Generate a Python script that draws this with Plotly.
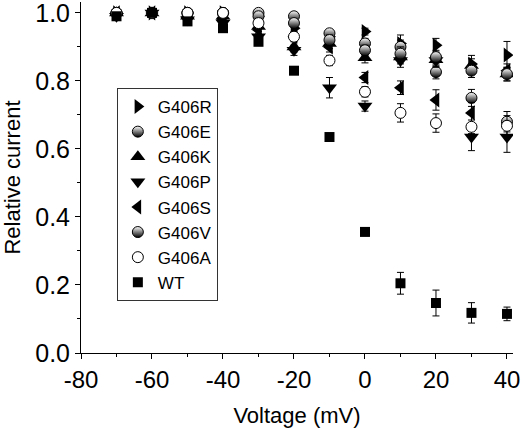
import plotly.graph_objects as go

voltage = [-70, -60, -50, -40, -30, -20, -10, 0, 10, 20, 30, 40]

g406r = [1.00, 1.00, 1.00, 1.00, 0.99, 0.955, 0.93, 0.945, 0.91, 0.905, 0.85, 0.876]
g406r_err = [0.01, 0.005, 0.01, 0.01, 0.01, 0.01, 0.015, 0.01, 0.025, 0.02, 0.025, 0.04]
g406e = [1.00, 1.00, 1.00, 1.00, 1.00, 0.99, 0.94, 0.91, 0.90, 0.826, 0.75, 0.68]
g406e_err = [0.01, 0.005, 0.01, 0.01, 0.01, 0.01, 0.01, 0.015, 0.02, 0.02, 0.025, 0.03]
g406k = [1.00, 1.00, 0.99, 0.99, 0.96, 0.90, 0.91, 0.868, 0.87, 0.862, 0.845, 0.82]
g406k_err = [0.01, 0.005, 0.01, 0.01, 0.01, 0.015, 0.015, 0.015, 0.02, 0.02, 0.02, 0.02]
g406p = [0.99, 1.00, 0.98, 0.97, 0.93, 0.89, 0.78, 0.726, 0.86, 0.86, 0.635, 0.635]
g406p_err = [0.01, 0.005, 0.01, 0.01, 0.015, 0.015, 0.03, 0.015, 0.02, 0.02, 0.04, 0.045]
g406s = [1.00, 1.00, 0.99, 0.98, 0.95, 0.93, 0.90, 0.81, 0.78, 0.744, 0.706, 0.83]
g406s_err = [0.01, 0.005, 0.01, 0.01, 0.01, 0.01, 0.015, 0.015, 0.02, 0.03, 0.03, 0.02]
g406v = [1.00, 1.00, 1.00, 1.00, 0.99, 0.97, 0.92, 0.89, 0.88, 0.87, 0.83, 0.82]
g406v_err = [0.01, 0.005, 0.01, 0.01, 0.01, 0.01, 0.015, 0.015, 0.02, 0.02, 0.02, 0.02]
g406a = [1.00, 1.00, 1.00, 1.00, 0.97, 0.93, 0.86, 0.768, 0.706, 0.676, 0.665, 0.668]
g406a_err = [0.01, 0.005, 0.01, 0.01, 0.01, 0.01, 0.015, 0.015, 0.027, 0.027, 0.02, 0.03]
wt = [0.99, 1.00, 0.975, 0.955, 0.915, 0.83, 0.635, 0.356, 0.205, 0.147, 0.118, 0.115]
wt_err = [0.01, 0.005, 0.01, 0.01, 0.01, 0.01, 0.01, 0.01, 0.032, 0.038, 0.03, 0.02]

x_ticks = [-80, -60, -40, -20, 0, 20, 40]
x_ticklabels = ["-80", "-60", "-40", "-20", "0", "20", "40"]
y_ticks = [0.0, 0.2, 0.4, 0.6, 0.8, 1.0]
y_ticklabels = ["0.0", "0.2", "0.4", "0.6", "0.8", "1.0"]

half = dict(symbol="circle", size=11, color="white",
            gradient=dict(type="vertical", color="black"),
            line=dict(color="black", width=1))

series = [
    ("G406R", g406r, g406r_err, dict(symbol="triangle-right", size=13, color="black")),
    ("G406E", g406e, g406e_err, half),
    ("G406K", g406k, g406k_err, dict(symbol="triangle-up", size=13, color="black")),
    ("G406P", g406p, g406p_err, dict(symbol="triangle-down", size=13, color="black")),
    ("G406S", g406s, g406s_err, dict(symbol="triangle-left", size=13, color="black")),
    ("G406V", g406v, g406v_err, half),
    ("G406A", g406a, g406a_err, dict(symbol="circle", size=11, color="white",
                                      line=dict(color="black", width=1))),
    ("WT", wt, wt_err, dict(symbol="square", size=10, color="black")),
]

fig = go.Figure()
for name, vals, errs, mk in series:
    fig.add_trace(go.Scatter(
        x=voltage, y=vals, name=name, mode="markers",
        marker=mk, legendgroup=name,
        error_y=dict(type="data", array=errs, visible=True, color="black",
                     thickness=1, width=3.5),
    ))

font_family = "Liberation Sans, Arial, sans-serif"
fig.update_layout(
    width=523, height=429,
    margin=dict(l=81, r=10, t=2, b=76, autoexpand=False),
    paper_bgcolor="white", plot_bgcolor="white",
    font=dict(family=font_family, color="black"),
    showlegend=True,
    legend=dict(
        x=0.083, y=0.755, xanchor="left", yanchor="top",
        bordercolor="#333", borderwidth=1, bgcolor="white",
        font=dict(size=17, family=font_family),
        traceorder="normal", tracegroupgap=5,
        itemsizing="trace",
    ),
    xaxis=dict(
        range=[-80, 41.7], tickvals=x_ticks, ticktext=x_ticklabels, ticks="outside", ticklen=5,
        tickwidth=1, tickcolor="black", showline=True, linecolor="black",
        linewidth=1, showgrid=False, zeroline=False, automargin=False,
        ticklabeloverflow="allow",
        tickfont=dict(size=24, family=font_family),
        minor=dict(dtick=10, tick0=-80, ticks="outside", ticklen=3, tickcolor="black", showgrid=False),
        title=dict(text="Voltage (mV)", font=dict(size=22, family=font_family)),
    ),
    yaxis=dict(
        range=[0, 1.032], tickvals=y_ticks, ticktext=y_ticklabels, ticks="outside",
        ticklen=5, tickwidth=1, tickcolor="black", showline=True,
        linecolor="black", linewidth=1, showgrid=False, zeroline=False, automargin=False,
        ticklabeloverflow="allow",
        tickfont=dict(size=25, family=font_family),
        minor=dict(dtick=0.1, tick0=0, ticks="outside", ticklen=3, tickcolor="black", showgrid=False),
        title=dict(text="Relative current", font=dict(size=22, family=font_family)),
    ),
)

fig.write_html("out.html", config={"displayModeBar": False},
               post_script="document.body.style.margin='0';")
